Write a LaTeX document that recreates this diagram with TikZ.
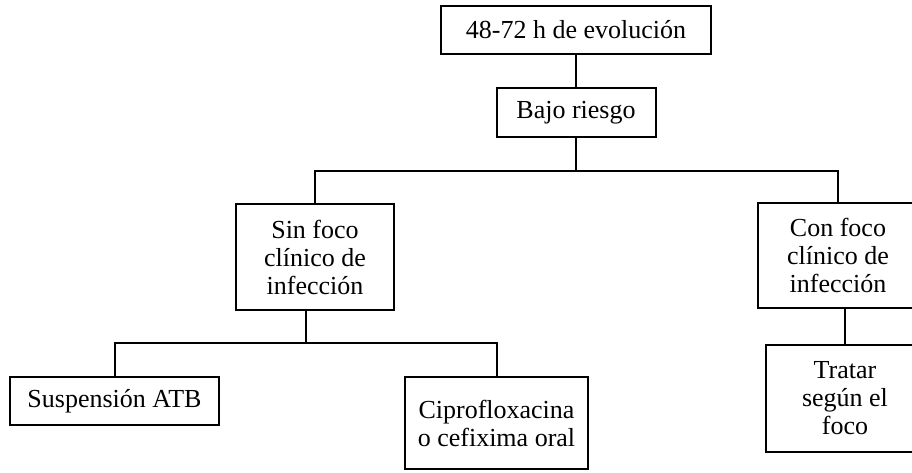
\documentclass[tikz,border=0pt]{standalone}
\usepackage{fontspec}
\setmainfont{Liberation Serif}
\usetikzlibrary{positioning,calc}

\begin{document}
\begin{tikzpicture}[x=1pt, y=-1pt]
    \tikzstyle{box} = [rectangle, draw, line width=2pt, align=center, inner sep=0pt, font=\fontsize{26}{28}\selectfont]
    \tikzstyle{link} = [line width=2pt]
    \useasboundingbox (0,0) rectangle (912,472);

    % Top
    \node[box, minimum width=270pt, minimum height=48pt] (evol) at (576,30) {48-72 h de evolución};
    \node[box, minimum width=159pt, minimum height=49pt] (bajo) at (576,112.5) {Bajo riesgo};

    % Middle
    \node[box, minimum width=158pt, minimum height=106pt] (sinfoco) at (315,257) {Sin foco\\clínico de\\infección};
    \node[box, minimum width=160pt, minimum height=105pt] (confoco) at (838,255.5) {Con foco\\clínico de\\infección};

    % Bottom
    \node[box, minimum width=209pt, minimum height=48pt] (susp) at (114.5,401) {Suspensión ATB};
    \node[box, minimum width=183pt, minimum height=92pt] (cipro) at (496.5,423) {Ciprofloxacina\\o cefixima oral};
    \node[box, minimum width=158pt, minimum height=107pt] (tratar) at (845,398.5) {Tratar\\según el\\foco};

    % Connectors
    \draw[link] (evol) -- (bajo);
    \coordinate (fork) at (576,171);
    \draw[link] (bajo.south) -- (fork);
    \draw[link] (sinfoco.north) |- (fork) -| (confoco.north);
    \path ($(susp.north)!0.5!(cipro.north)$) ++(0,-33) coordinate (branch);
    \draw[link] (sinfoco.south -| branch) -- (branch);
    \draw[link] (susp.north) |- (branch) -| (cipro.north);
    \draw[link] (tratar.north) -- (tratar.north |- confoco.south);
\end{tikzpicture}
\end{document}
